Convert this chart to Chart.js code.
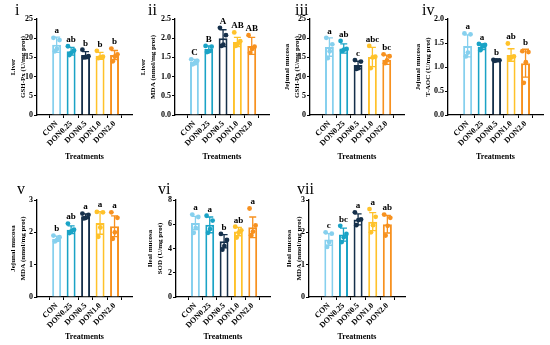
<!DOCTYPE html>
<html>
<head>
<meta charset="utf-8">
<script src="https://cdn.jsdelivr.net/npm/chart.js@4.4.1/dist/chart.umd.min.js"></script>
<style>
  html, body { margin: 0; padding: 0; background: #fff; }
  #wrap { position: relative; width: 550px; height: 345px; overflow: hidden; }
  .pan { position: absolute; }
  .tag { position: absolute; font: 16px 'Liberation Serif', serif; line-height: 1; color: #000; }
</style>
</head>
<body>
<div id="wrap"></div>
<script>
const groups = ['CON', 'DON0.25', 'DON0.5', 'DON1.0', 'DON2.0'];
const colors = ['#86d0ee', '#1aa3c6', '#15304b', '#ffc22a', '#f7911f'];

// i — Liver GSH-Px
const liverGshMean = [18.3, 16.6, 15.6, 15.4, 15.6];
const liverGshSd = [2.0, 1.0, 0.9, 0.9, 1.2];
const liverGshPts = [[20.1, 19.5, 17.2, 16.6], [17.9, 16.8, 16.2, 15.6], [17.0, 15.3, 15.1, 15.0], [16.7, 15.2, 15.0, 14.8], [17.3, 15.8, 15.2, 14.0]];
const liverGshSig = ['a', 'ab', 'b', 'b', 'b'];

// ii — Liver MDA
const liverMdaMean = [1.38, 1.72, 2.0, 1.9, 1.8];
const liverMdaSd = [0.07, 0.08, 0.22, 0.12, 0.22];
const liverMdaPts = [[1.45, 1.41, 1.35, 1.32], [1.80, 1.78, 1.66, 1.64], [2.27, 2.08, 1.83, 1.80], [2.15, 1.92, 1.85, 1.80], [2.08, 1.78, 1.72, 1.62]];
const liverMdaSig = ['C', 'B', 'A', 'AB', 'AB'];

// iii — Jejunal mucosa GSH-Px
const jejGshMean = [17.7, 17.3, 13.0, 15.1, 14.4];
const jejGshSd = [2.4, 1.2, 1.0, 2.5, 1.2];
const jejGshPts = [[20.1, 18.4, 16.6, 14.8], [19.3, 17.2, 17.0, 16.7], [14.3, 13.9, 12.2, 12.0], [18.0, 15.2, 15.0, 12.2], [15.8, 15.3, 14.2, 13.5]];
const jejGshSig = ['a', 'ab', 'c', 'abc', 'bc'];

// iv — Jejunal mucosa T-AOC
const jejAocMean = [1.44, 1.42, 1.14, 1.25, 1.08];
const jejAocSd = [0.23, 0.06, 0.02, 0.13, 0.29];
const jejAocPts = [[1.70, 1.68, 1.30, 1.22], [1.48, 1.46, 1.44, 1.35], [1.15, 1.14, 1.14, 1.13], [1.49, 1.22, 1.20, 1.17], [1.33, 1.31, 1.10, 0.67]];
const jejAocSig = ['a', 'a', 'b', 'ab', 'b'];

// v — Jejunal mucosa MDA
const jejMdaMean = [1.80, 2.08, 2.50, 2.29, 2.19];
const jejMdaSd = [0.08, 0.12, 0.07, 0.35, 0.32];
const jejMdaPts = [[1.90, 1.85, 1.76, 1.72], [2.27, 2.08, 2.03, 1.98], [2.58, 2.54, 2.45, 2.43], [2.63, 2.62, 2.15, 1.86], [2.62, 2.45, 2.00, 1.80]];
const jejMdaSig = ['b', 'ab', 'a', 'a', 'a'];

// vi — Ileal mucosa SOD
const ileSodMean = [6.1, 5.95, 4.6, 5.4, 5.75];
const ileSodSd = [0.55, 0.65, 0.55, 0.35, 0.85];
const ileSodPts = [[6.8, 6.6, 5.7, 5.3], [6.7, 6.3, 5.6, 5.3], [5.2, 4.7, 4.2, 3.9], [5.8, 5.5, 5.3, 4.9], [7.3, 5.9, 5.4, 5.1]];
const ileSodSig = ['a', 'a', 'b', 'ab', 'a'];

// vii — Ileal mucosa MDA
const ileMdaMean = [1.78, 1.93, 2.40, 2.33, 2.25];
const ileMdaSd = [0.18, 0.20, 0.17, 0.28, 0.27];
const ileMdaPts = [[2.00, 1.96, 1.70, 1.55], [2.20, 1.95, 1.85, 1.70], [2.62, 2.40, 2.38, 2.22], [2.72, 2.48, 2.22, 2.00], [2.55, 2.45, 2.20, 1.90]];
const ileMdaSig = ['c', 'bc', 'a', 'a', 'ab'];

// spread of the dots inside a bar (in category units)
const jitter = [-0.22, 0.2, 0.02, -0.12];

const FONT = "'Liberation Serif', 'Times New Roman', serif";

const panels = [
  { tag: 'i', mean: liverGshMean, sd: liverGshSd, pts: liverGshPts, sig: liverGshSig, title: ['Liver', 'GSH-Px (U/mg prot)'],
    yMax: 25, step: 5, dec: 0, left: 0, top: 0, w: 137, axisW: 37, padR: 5, titleX: 13, tagX: 15, tagY: 2 },
  { tag: 'ii', mean: liverMdaMean, sd: liverMdaSd, pts: liverMdaPts, sig: liverMdaSig, title: ['Liver', 'MDA (nmol/mg prot)'],
    yMax: 2.5, step: 0.5, dec: 1, left: 137, top: 0, w: 136, axisW: 38, padR: 3, titleX: 143, tagX: 148, tagY: 2 },
  { tag: 'iii', mean: jejGshMean, sd: jejGshSd, pts: jejGshPts, sig: jejGshSig, title: ['Jejunal mucosa', 'GSH-Px (U/mg prot)'],
    yMax: 25, step: 5, dec: 0, left: 273, top: 0, w: 135, axisW: 37, padR: 2, titleX: 287, tagX: 295, tagY: 2 },
  { tag: 'iv', mean: jejAocMean, sd: jejAocSd, pts: jejAocPts, sig: jejAocSig, title: ['Jejunal mucosa', 'T-AOC (U/mg prot)'],
    yMax: 2.0, step: 0.5, dec: 1, left: 408, top: 0, w: 142, axisW: 40, padR: 7, titleX: 418, tagX: 422, tagY: 2 },
  { tag: 'v', mean: jejMdaMean, sd: jejMdaSd, pts: jejMdaPts, sig: jejMdaSig, title: ['Jejunal mucosa', 'MDA (nmol/mg prot)'],
    yMax: 3, step: 1, dec: 0, left: 0, top: 180, w: 137, axisW: 37, padR: 5, titleX: 13, tagX: 17, tagY: 181 },
  { tag: 'vi', mean: ileSodMean, sd: ileSodSd, pts: ileSodPts, sig: ileSodSig, title: ['Ileal mucosa', 'SOD (U/mg prot)'],
    yMax: 8, step: 2, dec: 0, left: 137, top: 180, w: 137, axisW: 39, padR: 2, titleX: 150, tagX: 158, tagY: 181 },
  { tag: 'vii', mean: ileMdaMean, sd: ileMdaSd, pts: ileMdaPts, sig: ileMdaSig, title: ['Ileal mucosa', 'MDA (nmol/mg prot)'],
    yMax: 3, step: 1, dec: 0, left: 274, top: 180, w: 136, axisW: 35, padR: 5, titleX: 289, tagX: 297, tagY: 181 }
];

const errBars = {
  id: 'errBars',
  afterDatasetDraw(chart, args, opts) {
    if (args.index !== 0) return;
    const { ctx } = chart;
    const xs = chart.scales.x, ys = chart.scales.y;
    ctx.save();
    ctx.lineWidth = 1.3;
    opts.mean.forEach((m, i) => {
      const x = xs.getPixelForValue(i);
      const hi = ys.getPixelForValue(m + opts.sd[i]);
      const lo = ys.getPixelForValue(m - opts.sd[i]);
      ctx.strokeStyle = colors[i];
      ctx.beginPath();
      ctx.moveTo(x, lo); ctx.lineTo(x, hi);
      ctx.moveTo(x - 3.5, hi); ctx.lineTo(x + 3.5, hi);
      ctx.moveTo(x - 3.5, lo); ctx.lineTo(x + 3.5, lo);
      ctx.stroke();
    });
    ctx.restore();
  },
  afterDatasetsDraw(chart, args, opts) {
    const { ctx } = chart;
    const xs = chart.scales.x, ys = chart.scales.y;
    ctx.save();
    ctx.fillStyle = '#000';
    ctx.font = 'bold 9px ' + FONT;
    ctx.textAlign = 'center';
    ctx.textBaseline = 'bottom';
    opts.sig.forEach((s, i) => {
      const top = Math.max(opts.mean[i] + opts.sd[i], ...opts.pts[i]);
      ctx.fillText(s, xs.getPixelForValue(i), ys.getPixelForValue(top) - 2);
    });
    ctx.restore();
  }
};

const wrap = document.getElementById('wrap');

panels.forEach(p => {
  const box = document.createElement('div');
  box.className = 'pan';
  box.style.left = p.left + 'px';
  box.style.top = p.top + 'px';
  box.style.width = p.w + 'px';
  box.style.height = '165px';
  const cv = document.createElement('canvas');
  box.appendChild(cv);
  wrap.appendChild(box);

  const tag = document.createElement('div');
  tag.className = 'tag';
  tag.style.left = p.tagX + 'px';
  tag.style.top = p.tagY + 'px';
  tag.textContent = p.tag;
  wrap.appendChild(tag);

  const dots = [], dotColors = [];
  p.pts.forEach((arr, i) => arr.forEach((v, k) => {
    dots.push({ x: i + jitter[k], y: v });
    dotColors.push(colors[i]);
  }));

  const bottomRow = p.top > 0;

  new Chart(cv, {
    data: {
      datasets: [
        {
          type: 'bar',
          data: p.mean.map((m, i) => ({ x: i, y: m })),
          backgroundColor: '#fff',
          borderColor: colors,
          borderWidth: 2,
          barPercentage: 0.62,
          categoryPercentage: 1,
          order: 1
        },
        {
          type: 'scatter',
          data: dots,
          pointBackgroundColor: dotColors,
          pointBorderWidth: 0,
          pointRadius: 2.4,
          order: 0
        }
      ]
    },
    options: {
      responsive: true,
      maintainAspectRatio: false,
      animation: false,
      layout: { padding: { top: bottomRow ? 20 : 19, right: p.padR, bottom: 0, left: 0 } },
      plugins: {
        legend: { display: false },
        tooltip: { enabled: false },
        errBars: { mean: p.mean, sd: p.sd, pts: p.pts, sig: p.sig }
      },
      scales: {
        x: {
          type: 'linear',
          min: -0.7,
          max: 4.55,
          afterBuildTicks: s => { s.ticks = groups.map((g, i) => ({ value: i })); },
          afterFit: s => { s.height = bottomRow ? 48 : 50; },
          ticks: {
            callback: v => groups[v],
            autoSkip: false,
            minRotation: 45,
            maxRotation: 45,
            padding: 1,
            color: '#000',
            font: { family: FONT, size: 8, weight: 'bold' }
          },
          grid: { display: true, drawOnChartArea: false, tickLength: 3, color: '#000', lineWidth: 1 },
          border: { display: true, color: '#000', width: 1.3 },
          title: {
            display: true,
            text: 'Treatments',
            color: '#000',
            padding: { top: 2, bottom: 3 },
            font: { family: FONT, size: 8, weight: 'bold' }
          }
        },
        y: {
          min: 0,
          max: p.yMax,
          afterFit: s => { s.width = p.axisW; },
          ticks: {
            stepSize: p.step,
            padding: 1,
            color: '#000',
            callback: v => v.toFixed(p.dec),
            font: { family: FONT, size: 8, weight: 'bold' }
          },
          grid: { display: true, drawOnChartArea: false, tickLength: 3, color: '#000', lineWidth: 1 },
          border: { display: true, color: '#000', width: 1.3 },
          title: {
            display: true,
            text: p.title,
            color: '#000',
            padding: { top: p.titleX - p.left - 4.9, bottom: 0 },
            font: { family: FONT, size: 7, weight: 'bold', lineHeight: 1.4 }
          }
        }
      }
    },
    plugins: [errBars]
  });
});
</script>
</body>
</html>
